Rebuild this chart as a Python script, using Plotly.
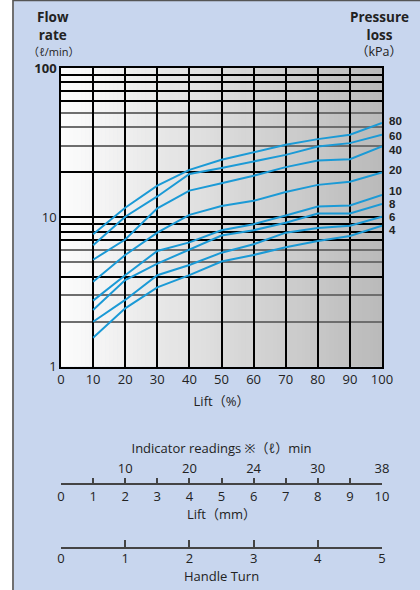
import plotly.graph_objects as go

# ---------------- data ----------------
lift_pct = [10, 20, 30, 40, 50, 60, 70, 80, 90, 100]
flow_80 = [7.7, 11.6, 16.3, 20.8, 24.3, 27.2, 30.6, 33.4, 35.7, 42.8]
flow_60 = [6.5, 10.1, 13.8, 19.5, 21.4, 23.7, 26.2, 29.8, 31.4, 35.7]
flow_40 = [5.2, 7.1, 11.5, 15.1, 16.9, 19.0, 21.7, 24.0, 24.5, 29.9]
flow_20 = [3.7, 5.6, 7.9, 10.4, 11.9, 12.9, 14.8, 16.5, 17.3, 20.0]
flow_10 = [2.77, 4.1, 5.96, 6.8, 8.2, 9.0, 10.3, 11.8, 12.0, 14.1]
flow_8 = [2.4, 3.8, 4.9, 6.05, 7.55, 8.2, 9.2, 10.6, 10.6, 12.3]
flow_6 = [2.0, 2.8, 4.1, 4.8, 5.8, 6.6, 7.9, 8.5, 8.8, 10.1]
flow_4 = [1.56, 2.46, 3.4, 4.1, 5.06, 5.6, 6.3, 6.95, 7.5, 8.8]
series = [flow_80, flow_60, flow_40, flow_20, flow_10, flow_8, flow_6, flow_4]
pressure_labels = ["80", "60", "40", "20", "10", "8", "6", "4"]
label_logy = [1.647, 1.546, 1.452, 1.318, 1.177, 1.090, 1.003, 0.916]

x_ticks_pct = [0, 10, 20, 30, 40, 50, 60, 70, 80, 90, 100]
y_black = [1, 4, 7, 8, 9, 10, 20, 60, 70, 80, 90, 100]
y_black_text = ["1", "", "", "", "", "10", "", "", "", "", "", "<b>100</b>"]
y_gray = [2, 3, 5, 6, 30, 40, 50]

lift_mm_ticks = [0, 1, 2, 3, 4, 5, 6, 7, 8, 9, 10]
indicator_pos = [2, 4, 6, 8, 10]
indicator_text = ["10", "20", "24", "30", "38"]
handle_ticks = [0, 1, 2, 3, 4, 5]

FONT = "Open Sans, Noto Sans, Noto Sans CJK JP, sans-serif"
LABFONT = "Liberation Sans, Arial, sans-serif"
TXT = "#222222"
BLUE = "#1b9ad6"
PANEL = "#c8d6ee"

fig = go.Figure()
for ys in series:
    fig.add_trace(go.Scatter(x=lift_pct, y=ys, mode="lines",
                             line=dict(color=BLUE, width=2),
                             showlegend=False, hoverinfo="skip",
                             xaxis="x", yaxis="y"))

# invisible anchors so the scale axes are drawn
for xa, ya, xr in [("x2", "y2", lift_mm_ticks), ("x4", "y2", indicator_pos), ("x3", "y3", handle_ticks)]:
    fig.add_trace(go.Scatter(x=[xr[0], xr[-1]], y=[0.5, 0.5], mode="markers",
                             marker=dict(opacity=0, size=1), showlegend=False,
                             hoverinfo="skip", xaxis=xa, yaxis=ya))

# gradient plot background (strips)
shapes = []
N = 80
c0, c1 = 252, 186
for i in range(N):
    t = i / (N - 1)
    c = int(round(c0 + (c1 - c0) * t))
    shapes.append(dict(type="rect", xref="x domain", yref="y domain",
                       x0=i / N, x1=(i + 1) / N + 0.002, y0=0, y1=1,
                       fillcolor=f"rgb({c},{c},{c})", line=dict(width=0),
                       layer="below"))
# page border & left white margin
shapes.append(dict(type="rect", xref="paper", yref="paper", x0=-61/321, x1=-49/321,
                   y0=-0.05, y1=1.2, fillcolor="white", line=dict(width=0), layer="below"))
shapes.append(dict(type="line", xref="paper", yref="paper", x0=-48/321, x1=-48/321,
                   y0=-0.05, y1=68/512 + 1, line=dict(color="#707070", width=2)))
shapes.append(dict(type="line", xref="paper", yref="paper", x0=-48/321, x1=1.2,
                   y0=1 + 67.5/512, y1=1 + 67.5/512, line=dict(color="#555555", width=1.5)))

annotations = []
for lab, ly in zip(pressure_labels, label_logy):
    annotations.append(dict(x=100, y=ly, xref="x", yref="y", text=f"<b>{lab}</b>",
                            showarrow=False, xanchor="left", xshift=6, borderpad=0,
                            font=dict(family=LABFONT, size=11.5, color=TXT)))

head_font = dict(family=FONT, size=13.5, color=TXT)
small_font = dict(family=FONT, size=11, color=TXT)
tickf = dict(family=FONT, size=13, color=TXT)
annotations += [
    dict(xref="paper", yref="paper", x=-8/321, y=1 + 42/512, text="<b>Flow<br>rate</b>",
         showarrow=False, xanchor="center", yanchor="middle", borderpad=0, font=head_font),
    dict(xref="paper", yref="paper", x=-8/321, y=1 + 17/512, text="（ℓ/min）",
         showarrow=False, xanchor="center", yanchor="middle", borderpad=0, font=small_font),
    dict(xref="paper", yref="paper", x=318/321, y=1 + 42/512, text="<b>Pressure<br>loss</b>",
         showarrow=False, xanchor="center", yanchor="middle", borderpad=0, font=head_font),
    dict(xref="paper", yref="paper", x=318/321, y=1 + 17/512, text="（kPa）",
         showarrow=False, xanchor="center", yanchor="middle", borderpad=0,
         font=dict(family=FONT, size=12.5, color=TXT)),
    dict(xref="paper", yref="paper", x=0.5, y=(580 - 576) / 512, text="Handle Turn",
         showarrow=False, xanchor="center", yanchor="middle", borderpad=0, font=tickf),
]

fig.update_layout(
    width=420, height=590, autosize=False,
    margin=dict(l=61, r=38, t=68, b=10, autoexpand=False),
    paper_bgcolor=PANEL, plot_bgcolor="rgba(0,0,0,0)",
    font=dict(family=FONT, color=TXT),
    shapes=shapes, annotations=annotations,
    xaxis=dict(domain=[0, 1], anchor="y", range=[0, 100], tickvals=x_ticks_pct,
               showgrid=True, gridcolor="black", gridwidth=1.5, automargin=False,
               showline=True, linecolor="black", linewidth=1.5, mirror=True,
               ticks="", tickfont=tickf, zeroline=False,
               title=dict(text="Lift（%）", font=tickf, standoff=10)),
    yaxis=dict(domain=[0.4166, 1], type="log", range=[0, 2], automargin=False,
               tickmode="array", tickvals=y_black, ticktext=y_black_text,
               showgrid=True, gridcolor="black", gridwidth=1.5,
               minor=dict(tickmode="array", tickvals=y_gray, showgrid=True,
                          gridcolor="#6e6e6e", gridwidth=1.5, ticks=""),
               showline=True, linecolor="black", linewidth=1.5, mirror=True,
               ticks="", tickfont=tickf, zeroline=False),
    # Lift (mm)
    yaxis2=dict(domain=[0.1889, 0.1899], visible=False, range=[0, 1], automargin=False),
    xaxis2=dict(domain=[0, 1], anchor="y2", range=[0, 10], tickvals=lift_mm_ticks,
                showgrid=False, zeroline=False, showline=True, linecolor="#444444",
                linewidth=1.5, ticks="inside", ticklen=6, tickwidth=1.5, tickcolor="#444444",
                automargin=False,
                tickfont=tickf, title=dict(text="Lift（mm）", font=tickf, standoff=4)),
    xaxis4=dict(domain=[0, 1], anchor="y2", overlaying="x2", side="top", range=[0, 10],
                tickvals=indicator_pos, ticktext=indicator_text, showgrid=False,
                zeroline=False, showline=False, ticks="outside", ticklen=4,
                tickcolor="rgba(0,0,0,0)", tickfont=tickf, automargin=False,
                title=dict(text="Indicator readings ※（ℓ）min", font=tickf, standoff=2)),
    # Handle Turn
    yaxis3=dict(domain=[0.065, 0.066], visible=False, range=[0, 1], automargin=False),
    xaxis3=dict(domain=[0, 1], anchor="y3", range=[0, 5], tickvals=handle_ticks,
                showgrid=False, zeroline=False, showline=True, linecolor="#444444",
                linewidth=1.5, ticks="inside", ticklen=7, tickwidth=1.5, tickcolor="#444444",
                automargin=False, ticklabelstandoff=-1, tickfont=tickf),
)

fig.write_html("out.html", config=dict(displayModeBar=False),
               post_script="document.body.style.margin='0';document.body.style.overflow='hidden';")
